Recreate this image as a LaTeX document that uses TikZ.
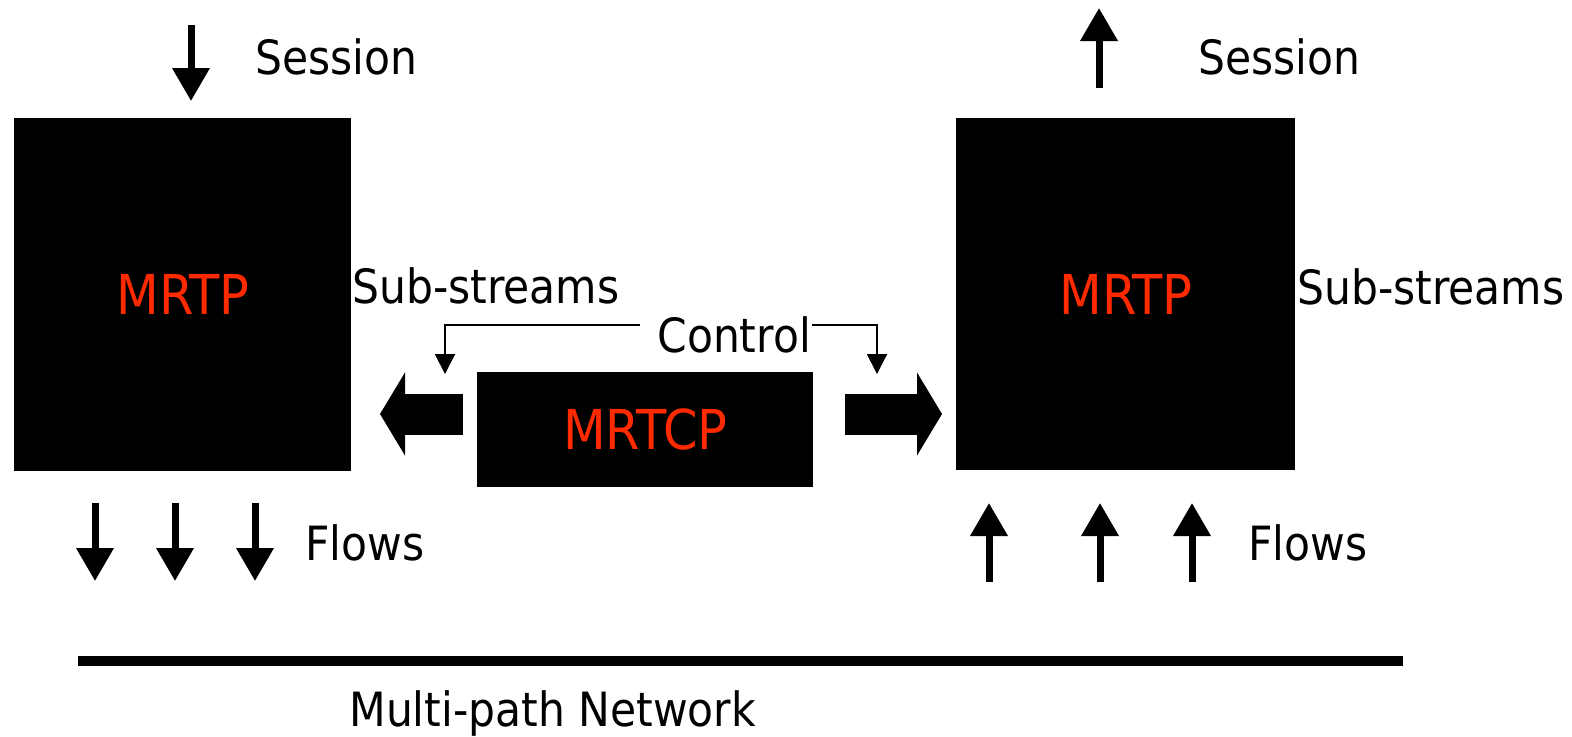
\documentclass[tikz,border=0pt]{standalone}
\usepackage{fontspec}
\setmainfont{DejaVu Sans Condensed}
\usetikzlibrary{arrows.meta}
\definecolor{mred}{RGB}{255,42,0}
\begin{document}
\begin{tikzpicture}[x=0.5pt,y=-0.5pt,
  lbl/.style={font=\fontsize{23.6pt}{28pt}\selectfont, inner sep=0pt, anchor=base west},
  boxlbl/.style={font=\fontsize{27.5pt}{31pt}\selectfont, text=mred},
  blk/.style={fill=black, draw=none, inner sep=0pt, anchor=north west},
  thinarrow/.style={line width=3.5pt, -{Triangle[width=18pt,length=16.5pt]}},
  fatarrow/.style={line width=20.5pt, -{Triangle[width=41pt,length=12.5pt]}},
  ctlarrow/.style={line width=1pt, -{Triangle[width=10pt,length=10pt]}},
  netline/.style={line width=5pt}]
\useasboundingbox (0,0) rectangle (1572,736);
% boxes
\node[blk, minimum width=168.5pt, minimum height=176.5pt, boxlbl] (L) at (14,118) {MRTP};
\node[blk, minimum width=169.5pt, minimum height=176pt, boxlbl] (R) at (956,118) {MRTP};
\node[blk, minimum width=168pt, minimum height=57.5pt, boxlbl] (C) at (477,372) {MRTCP};
% labels
\node[lbl] (s1) at (255,74) {Session};
\node[lbl] (s2) at (1198,74) {Session};
\node[lbl] (ss1) at (352,303) {Sub-streams};
\node[lbl] (ss2) at (1297,304) {Sub-streams};
\node[lbl] (ctl) at (657,352) {Control};
\node[lbl] (f1) at (305,560) {Flows};
\node[lbl] (f2) at (1248,560) {Flows};
\node[lbl] (net) at (349,726) {Multi-path Network};
% session arrows
\coordinate (sa1) at (191,25); \coordinate (sa2) at (191,101);
\draw[thinarrow] (sa1) -- (sa2);
\coordinate (sb1) at (1099,88); \coordinate (sb2) at (1099,8);
\draw[thinarrow] (sb1) -- (sb2);
% flows left
\foreach \x [count=\i] in {95,175,255}{
  \coordinate (fl\i a) at (\x,503); \coordinate (fl\i b) at (\x,581);
  \draw[thinarrow] (fl\i a) -- (fl\i b);}
% flows right
\foreach \x [count=\i] in {989,1100,1192}{
  \coordinate (fr\i a) at (\x,582); \coordinate (fr\i b) at (\x,503);
  \draw[thinarrow] (fr\i a) -- (fr\i b);}
% fat arrows
\coordinate (la1) at (463,414); \coordinate (la2) at (380,414);
\draw[fatarrow] (la1) -- (la2);
\coordinate (ra1) at (845,414); \coordinate (ra2) at (942,414);
\draw[fatarrow] (ra1) -- (ra2);
% control arrows
\coordinate (c1) at (640,325); \coordinate (c1e) at (445,374);
\draw[ctlarrow] (c1) -| (c1e);
\coordinate (c2) at (812,325); \coordinate (c2e) at (877,374);
\draw[ctlarrow] (c2) -| (c2e);
% network line
\coordinate (n1) at (78,661); \coordinate (n2) at (1403,661);
\draw[netline] (n1) -- (n2);
\end{tikzpicture}
\end{document}
